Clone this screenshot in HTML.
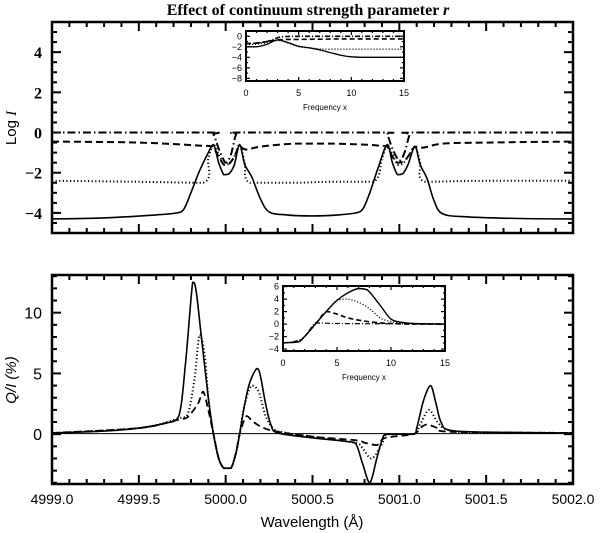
<!DOCTYPE html>
<html><head><meta charset="utf-8"><style>
body{margin:0;background:#fff;}
svg{display:block;font-family:"Liberation Sans",sans-serif;}
.serif{font-family:"Liberation Serif",serif;}
</style></head><body>
<svg id="c" width="600" height="533" viewBox="0 0 600 533">
<text x="308" y="15" text-anchor="middle" class="serif" font-size="16" font-weight="bold">Effect of continuum strength parameter <tspan font-style="italic">r</tspan></text>
</svg>
<script>
// ---------- data ----------
const wlTicks=[4999.0,4999.5,5000.0,5000.5,5001.0,5001.5,5002.0];
const wlTickLabels=["4999.0","4999.5","5000.0","5000.5","5001.0","5001.5","5002.0"];
const topYTicks=[-4,-2,0,2,4];
const botYTicks=[0,5,10];
// top panel: log I
const iSolidX=[4999.0,4999.3,4999.6,4999.72,4999.76,4999.8,4999.85,4999.9,4999.93,4999.96,4999.99,5000.02,5000.05,5000.08,5000.11,5000.15,5000.2,5000.25,5000.35,5000.5,5000.65,5000.75,5000.79,5000.83,5000.88,5000.93,5000.96,5000.99,5001.02,5001.05,5001.09,5001.12,5001.16,5001.2,5001.25,5001.4,5001.7,5002.0];
const iSolidY=[-4.3,-4.25,-4.1,-4.0,-3.8,-3.0,-1.9,-1.0,-0.6,-1.5,-2.1,-2.05,-1.6,-0.6,-1.6,-2.2,-3.3,-3.95,-4.1,-4.15,-4.1,-4.0,-3.8,-3.0,-1.7,-0.6,-1.5,-2.1,-2.05,-1.6,-0.7,-1.6,-2.3,-3.4,-4.05,-4.2,-4.28,-4.3];
const iDotX=[4999.0,4999.5,4999.87,4999.9,4999.93,4999.96,4999.99,5000.02,5000.05,5000.08,5000.11,5000.14,5000.4,5000.6,5000.85,5000.9,5000.93,5000.96,5000.99,5001.02,5001.05,5001.09,5001.12,5001.15,5001.5,5002.0];
const iDotY=[-2.4,-2.45,-2.5,-1.3,-0.6,-1.1,-1.6,-1.55,-1.2,-0.6,-1.5,-2.5,-2.5,-2.45,-2.45,-1.3,-0.6,-1.1,-1.6,-1.55,-1.2,-0.7,-1.5,-2.45,-2.4,-2.4];
const iDashX=[4999.0,4999.5,4999.85,4999.92,4999.96,4999.99,5000.02,5000.05,5000.08,5000.12,5000.2,5000.4,5000.6,5000.8,5000.88,5000.93,5000.96,5000.99,5001.02,5001.05,5001.09,5001.14,5001.25,5001.5,5002.0];
const iDashY=[-0.45,-0.5,-0.65,-0.7,-1.2,-1.6,-1.55,-1.2,-0.7,-0.85,-0.7,-0.55,-0.55,-0.6,-0.65,-0.7,-1.2,-1.5,-1.45,-1.2,-0.7,-0.75,-0.55,-0.5,-0.45];
const iDDX=[4999.0,4999.9,4999.93,4999.96,5000.0,5000.03,5000.06,5000.09,5000.9,5000.93,5000.96,5001.0,5001.03,5001.06,5001.09,5002.0];
const iDDY=[0,0,-0.1,-0.8,-1.5,-1.1,-0.1,0,0,-0.1,-0.8,-1.4,-1.0,-0.1,0,0];
// bottom panel: Q/I (%)
const qSolidX=[4999.0,4999.3,4999.5,4999.65,4999.73,4999.77,4999.81,4999.83,4999.86,4999.9,4999.93,4999.96,4999.99,5000.03,5000.06,5000.08,5000.11,5000.14,5000.18,5000.2,5000.23,5000.26,5000.3,5000.5,5000.7,5000.75,5000.79,5000.83,5000.87,5000.9,5000.93,5001.08,5001.1,5001.14,5001.18,5001.21,5001.24,5001.3,5001.6,5002.0];
const qSolidY=[0.1,0.25,0.5,0.9,1.5,6,12.5,11.8,8,3,0,-2,-2.8,-2.8,-1.5,0,2.5,4.3,5.4,4.8,2.5,0.8,0.1,-0.3,-0.6,-0.8,-2.5,-4,-2,-0.5,0,0,0.5,2.8,4,2.6,1,0.3,0.15,0.1];
const qDotX=[4999.0,4999.5,4999.73,4999.78,4999.82,4999.85,4999.88,4999.9,4999.93,4999.96,4999.99,5000.03,5000.06,5000.08,5000.11,5000.15,5000.19,5000.23,5000.28,5000.35,5000.5,5000.74,5000.78,5000.84,5000.9,5000.93,5001.08,5001.12,5001.17,5001.22,5001.27,5001.4,5002.0];
const qDotY=[0.1,0.5,1.3,1.6,4.5,8.2,6.5,3,0,-2,-2.8,-2.8,-1.5,0,2.5,4,3.5,1.5,0.4,0.1,-0.2,-0.7,-1,-2,-0.8,0,0,0.8,2,1,0.4,0.15,0.1];
const qDashX=[4999.0,4999.5,4999.73,4999.78,4999.84,4999.87,4999.9,4999.93,4999.96,4999.99,5000.03,5000.06,5000.08,5000.12,5000.16,5000.22,5000.3,5000.5,5000.75,5000.8,5000.87,5000.92,5001.08,5001.12,5001.16,5001.22,5001.3,5002.0];
const qDashY=[0.1,0.5,1.2,1.4,2.5,3.5,2,0,-2,-2.8,-2.8,-1.5,0,1.5,1,0.5,0.2,-0.2,-0.5,-0.7,-0.9,-0.3,0,0.5,0.8,0.5,0.2,0.1];
const qDDX=[4999.0,5002.0];
const qDDY=[0.05,0.05];
// insets (frequency x)
const fTicks=[0,5,10,15];
const inTopYTicks=[-8,-6,-4,-2,0];
const inBotYTicks=[-4,-2,0,2,4,6];
const fSolidX=[0,1,2,3,4,5,6,7,8,9,10,11,13,15];
const fSolidY=[-2,-2,-1.5,-0.7,-1.2,-1.9,-2.2,-2.6,-3.1,-3.6,-3.9,-4,-4,-4];
const fDotX=[0,1,2,3,4,5,6,7,7.5,10,15];
const fDotY=[-1.6,-1.5,-1.2,-0.8,-1.3,-2,-2.2,-2.4,-2.45,-2.45,-2.45];
const fDashX=[0,1,2,3,4,5,7,10,15];
const fDashY=[-1.4,-1.3,-1,-0.7,-0.6,-0.6,-0.55,-0.5,-0.5];
const fDDX=[0,1,2,3,3.5,5,10,15];
const fDDY=[-1.4,-1.3,-1,-0.3,-0.1,0,0,0];
const gSolidX=[0,1,1.5,2,3,4,5,6,7,7.8,9,10,11,12,15];
const gSolidY=[-3,-2.9,-2.8,-2,0,2,3.8,5,5.7,5.5,3,0.8,0.3,0.1,0];
const gDotX=[0,1,1.5,2,3,4,5,6,7,8,9,10,11,12,15];
const gDotY=[-3,-2.9,-2.8,-2,0,2,3.8,4,3.5,2.5,1,0.4,0.2,0.1,0];
const gDashX=[0,1,1.5,2,3,4,5,6,7.5,9,10,12,15];
const gDashY=[-3,-2.9,-2.8,-2,0,2,1.6,1,0.5,0.2,0.1,0,0];
const gDDX=[0,1,2,3,4,5,10,15];
const gDDY=[-3,-2.8,-2,0.2,0.15,0.1,0.05,0];

// ---------- drawing ----------
const svg=document.getElementById('c');
const NS='http://www.w3.org/2000/svg';
function mk(tag,attrs){const e=document.createElementNS(NS,tag);for(const k in attrs)e.setAttribute(k,attrs[k]);svg.appendChild(e);return e;}
function axes(x0,x1,y0,y1,xmin,xmax,ymin,ymax){
  return {sx:v=>x0+(v-xmin)/(xmax-xmin)*(x1-x0), sy:v=>y1-(v-ymin)/(ymax-ymin)*(y1-y0)};
}
function frame(x0,y0,x1,y1,sw,name){
  const r=mk('rect',{x:x0,y:y0,width:x1-x0,height:y1-y0,fill:'none',stroke:'#000','stroke-width':sw});
  
  
}
function tick(x1,y1,x2,y2,sw){const l=mk('line',{x1,y1,x2,y2,stroke:'#000','stroke-width':sw});
  
  }
const clamp=(v,a,b)=>Math.max(Math.min(a,b),Math.min(Math.max(a,b),v));
function series(ax,xs,ys,dash,sw,name){
  const P=xs.map((v,i)=>[ax.sx(v),ax.sy(ys[i])]);
  let d='M'+P[0][0].toFixed(1)+','+P[0][1].toFixed(1);
  for(let i=0;i<P.length-1;i++){
    const p0=P[Math.max(0,i-1)],p1=P[i],p2=P[i+1],p3=P[Math.min(P.length-1,i+2)];
    const t=0.16;
    const c1x=p1[0]+(p2[0]-p0[0])*t,c1y=clamp(p1[1]+(p2[1]-p0[1])*t,p1[1],p2[1]);
    const c2x=p2[0]-(p3[0]-p1[0])*t,c2y=clamp(p2[1]-(p3[1]-p1[1])*t,p1[1],p2[1]);
    d+=' C'+c1x.toFixed(1)+','+c1y.toFixed(1)+' '+c2x.toFixed(1)+','+c2y.toFixed(1)+' '+p2[0].toFixed(1)+','+p2[1].toFixed(1);
  }
  const p=mk('path',{d,fill:'none',stroke:'#000','stroke-width':sw,'stroke-dasharray':dash,'stroke-linejoin':'round'});
  
  
}
function label(x,y,txt,size,anchor,cls,name){
  const t=mk('text',{x,y,'font-size':size,'text-anchor':anchor});
  if(cls)t.setAttribute('class',cls);
  t.textContent=txt;
  
  
  return t;
}
function xTicks(ax,y0,y1,len,mlen,step,minor,xmin,xmax,sw){
  for(let v=xmin;v<=xmax+1e-9;v+=step/minor){
    const isMaj=Math.abs(Math.round((v-xmin)/step)*step-(v-xmin))<1e-6;
    const L=isMaj?len:mlen, x=ax.sx(v);
    tick(x,y1,x,y1-L,sw);tick(x,y0,x,y0+L,sw);
  }
}
function yTicks(ax,x0,x1,len,mlen,step,minor,ymin,ymax,sw){
  const start=Math.ceil(ymin/(step/minor)-1e-9)*(step/minor);
  for(let v=start;v<=ymax+1e-9;v+=step/minor){
    const isMaj=Math.abs(Math.round(v/step)*step-v)<1e-6;
    const L=isMaj?len:mlen, y=ax.sy(v);
    tick(x0,y,x0+L,y,sw);tick(x1,y,x1-L,y,sw);
  }
}
const DOT='1.2,2.4', DASH='7,4', DD='8,3,1.5,3';

// top panel
const T=axes(52,573,22,233,4999,5002,-5.0,5.5);
xTicks(T,22,233,9,5,0.5,5,4999,5002,2);
yTicks(T,52,573,9,5,2,4,-5,5.5,2);
topYTicks.forEach(v=>label(42,T.sy(v)+6,v<0?'\u2212'+(-v):String(v),16,'end','serif','top-y-tick-label').setAttribute('font-weight','bold'));
const yl1=label(0,0,'Log ',15,'middle',null,'top-y-axis-title');
yl1.setAttribute('transform','translate(16,128) rotate(-90)');
const it=document.createElementNS(NS,'tspan');it.setAttribute('font-style','italic');it.setAttribute('class','serif');it.textContent='I';yl1.appendChild(it);
series(T,iDDX,iDDY,DD,2,'top-series-dashdot');
series(T,iDashX,iDashY,DASH,2,'top-series-dashed');
series(T,iDotX,iDotY,DOT,2,'top-series-dotted');
series(T,iSolidX,iSolidY,'',1.6,'top-series-solid');
frame(52,22,573,233,2.5,'top-panel-frame');

// top inset
const TI=axes(246,404,31,81,0,15,-8.5,1);
mk('rect',{x:246,y:31,width:158,height:50,fill:'#fff'});
xTicks(TI,31,81,4,2,5,5,0,15,1.2);
yTicks(TI,246,404,4,2,2,2,-8.5,1,1.2);
fTicks.forEach(v=>label(TI.sx(v),96,String(v),9,'middle',null,'top-inset-x-tick-label'));
inTopYTicks.forEach(v=>label(242,TI.sy(v)+3,v<0?'\u2212'+(-v):String(v),9,'end',null,'top-inset-y-tick-label'));
label(325,110,'Frequency x',8,'middle',null,'top-inset-x-axis-title');
series(TI,fDDX,fDDY,'5,2,1,2',1.6,'top-inset-dashdot');
series(TI,fDashX,fDashY,'5,3',1.6,'top-inset-dashed');
series(TI,fDotX,fDotY,'1,2',1.4,'top-inset-dotted');
series(TI,fSolidX,fSolidY,'',1.3,'top-inset-solid');
frame(246,31,404,81,2,'top-inset-frame');

// bottom panel
const B=axes(52,573,275,484,4999,5002,-4.1,13.1);
xTicks(B,275,484,9,5,0.5,5,4999,5002,2);
yTicks(B,52,573,9,5,5,5,-4.1,13.1,2);
botYTicks.forEach(v=>label(42,B.sy(v)+6,String(v),16,'end',null,'bottom-y-tick-label'));
wlTicks.forEach((v,i)=>label(B.sx(v),504,wlTickLabels[i],14,'middle',null,'x-tick-label'));
label(312,527,'Wavelength (\u00C5)',15,'middle',null,'x-axis-title');
const yl2=label(0,0,'Q/I (%)',15,'middle',null,'bottom-y-axis-title');
yl2.setAttribute('transform','translate(16,380) rotate(-90)');
yl2.setAttribute('font-style','italic');
series(B,qDDX,qDDY,'',1,'bottom-series-dashdot');
series(B,qDashX,qDashY,DASH,1.8,'bottom-series-dashed');
series(B,qDotX,qDotY,DOT,2,'bottom-series-dotted');
series(B,qSolidX,qSolidY,'',1.6,'bottom-series-solid');
frame(52,275,573,484,2.5,'bottom-panel-frame');

// bottom inset
const BI=axes(283,445,286,351,0,15,-4.3,6.1);
mk('rect',{x:283,y:286,width:162,height:65,fill:'#fff'});
xTicks(BI,286,351,4,2,5,5,0,15,1.2);
yTicks(BI,283,445,4,2,2,2,-4.3,6.1,1.2);
fTicks.forEach(v=>label(BI.sx(v),366,String(v),9,'middle',null,'bottom-inset-x-tick-label'));
inBotYTicks.forEach(v=>label(279,BI.sy(v)+3,v<0?'\u2212'+(-v):String(v),9,'end',null,'bottom-inset-y-tick-label'));
label(364,380,'Frequency x',8,'middle',null,'bottom-inset-x-axis-title');
series(BI,gDDX,gDDY,'5,2,1,2',1.2,'bottom-inset-dashdot');
series(BI,gDashX,gDashY,'5,3',1.6,'bottom-inset-dashed');
series(BI,gDotX,gDotY,'1,2',1.4,'bottom-inset-dotted');
series(BI,gSolidX,gSolidY,'',1.4,'bottom-inset-solid');
frame(283,286,445,351,2,'bottom-inset-frame');
</script>
</body></html>
